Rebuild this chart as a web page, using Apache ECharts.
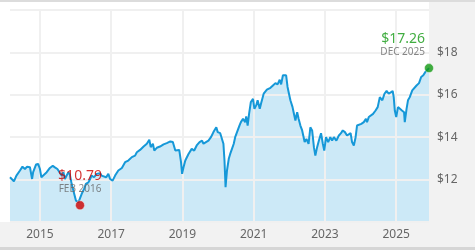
<!DOCTYPE html>
<html>
<head>
<meta charset="utf-8">
<script src="https://cdn.jsdelivr.net/npm/echarts@6/dist/echarts.min.js"></script>
<style>
  html, body { margin: 0; padding: 0; background: #f2f2f2; }
  #wrap { position: relative; width: 475px; height: 250px; overflow: hidden; }
  #topline { position: absolute; left: 0; top: 0; width: 475px; height: 2px; background: #dcdcdc; }
  #botline { position: absolute; left: 0; top: 247px; width: 475px; height: 3px; background: #d6d6d6; }
  #plotbg { position: absolute; left: 0; top: 2px; width: 429px; height: 220px; background: #ffffff; }
  #chart { position: absolute; left: 0; top: 0; width: 475px; height: 250px; }
</style>
</head>
<body>
<div id="wrap">
  <div id="topline"></div>
  <div id="plotbg"></div>
  <div id="botline"></div>
  <div id="chart"></div>
</div>
<script>
// Decimal years of each sample
const years = [
  2014.16, 2014.20, 2014.27, 2014.34, 2014.44, 2014.51, 2014.58, 2014.64, 2014.72, 2014.78,
  2014.81, 2014.89, 2014.95, 2015.00, 2015.04, 2015.09, 2015.19, 2015.28, 2015.36, 2015.42,
  2015.49, 2015.54, 2015.61, 2015.66, 2015.70, 2015.75, 2015.80, 2015.84, 2015.89, 2015.94,
  2016.01, 2016.08, 2016.12, 2016.17, 2016.24, 2016.29, 2016.36, 2016.41, 2016.45, 2016.52,
  2016.59, 2016.69, 2016.73, 2016.78, 2016.86, 2016.92, 2016.97, 2017.04, 2017.11, 2017.20,
  2017.30, 2017.39, 2017.48, 2017.58, 2017.67, 2017.72, 2017.81, 2017.91, 2018.00, 2018.07,
  2018.11, 2018.17, 2018.21, 2018.28, 2018.37, 2018.47, 2018.56, 2018.66, 2018.73, 2018.80,
  2018.84, 2018.91, 2018.96, 2018.99, 2019.03, 2019.08, 2019.17, 2019.26, 2019.33, 2019.40,
  2019.48, 2019.55, 2019.59, 2019.66, 2019.73, 2019.80, 2019.87, 2019.95, 2019.99, 2020.06,
  2020.11, 2020.15, 2020.18, 2020.21, 2020.25, 2020.30, 2020.34, 2020.39, 2020.44, 2020.48,
  2020.55, 2020.60, 2020.64, 2020.70, 2020.76, 2020.79, 2020.83, 2020.87, 2020.92, 2020.98,
  2021.02, 2021.07, 2021.11, 2021.17, 2021.21, 2021.28, 2021.37, 2021.47, 2021.54, 2021.61,
  2021.67, 2021.73, 2021.77, 2021.82, 2021.86, 2021.91, 2021.95, 2021.99, 2022.03, 2022.09,
  2022.12, 2022.17, 2022.22, 2022.26, 2022.31, 2022.36, 2022.40, 2022.43, 2022.48, 2022.54,
  2022.59, 2022.64, 2022.69, 2022.73, 2022.78, 2022.83, 2022.89, 2022.94, 2022.98, 2023.03,
  2023.09, 2023.15, 2023.20, 2023.25, 2023.32, 2023.39, 2023.45, 2023.50, 2023.56, 2023.62,
  2023.67, 2023.72, 2023.76, 2023.81, 2023.86, 2023.90, 2023.95, 2024.02, 2024.09, 2024.15,
  2024.18, 2024.23, 2024.28, 2024.35, 2024.42, 2024.48, 2024.54, 2024.61, 2024.67, 2024.73,
  2024.79, 2024.84, 2024.90, 2024.93, 2024.96, 2025.00, 2025.05, 2025.10, 2025.16, 2025.22,
  2025.24, 2025.29, 2025.33, 2025.38, 2025.45, 2025.50, 2025.57, 2025.64, 2025.70, 2025.76,
  2025.82, 2025.87, 2025.92
];
// Price ($) at each sample
const prices = [
  12.11, 12.03, 11.92, 12.19, 12.43, 12.61, 12.50, 12.61, 12.58, 12.03,
  12.35, 12.71, 12.74, 12.50, 12.11, 12.19, 12.35, 12.55, 12.65, 12.58,
  12.50, 12.43, 12.19, 12.35, 12.03, 12.19, 12.35, 12.24, 11.80, 11.87,
  11.01, 10.93, 11.01, 11.32, 11.56, 11.80, 11.87, 12.03, 12.19, 12.11,
  12.27, 12.30, 12.19, 12.27, 12.11, 12.27, 12.03, 11.95, 12.19, 12.43,
  12.55, 12.82, 12.90, 13.06, 13.13, 13.29, 13.40, 13.56, 13.69, 13.88,
  13.53, 13.69, 13.37, 13.50, 13.56, 13.66, 13.72, 13.80, 13.77, 13.37,
  13.29, 13.40, 12.82, 12.27, 12.58, 12.90, 13.21, 13.45, 13.37, 13.61,
  13.77, 13.84, 13.69, 13.77, 13.84, 14.00, 14.24, 14.47, 14.24, 14.19,
  14.24, 13.69, 12.90, 11.64, 12.43, 12.98, 13.21, 13.45, 13.69, 14.00,
  14.32, 14.55, 14.71, 14.87, 14.71, 14.98, 14.55, 15.10, 15.66, 15.81,
  15.34, 15.50, 15.74, 15.34, 15.61, 16.05, 16.24, 16.33, 16.44, 16.55,
  16.49, 16.71, 16.49, 16.92, 17.00, 16.92, 16.37, 16.05, 15.74, 15.42,
  15.18, 14.79, 15.18, 14.87, 14.55, 14.32, 14.24, 13.77, 13.92, 13.69,
  14.47, 14.32, 13.53, 13.13, 13.53, 13.84, 14.19, 13.69, 13.37, 14.00,
  13.77, 14.00, 13.84, 14.00, 13.84, 14.08, 14.19, 14.32, 14.24, 14.08,
  14.00, 14.19, 13.77, 13.61, 14.00, 14.55, 14.47, 14.63, 14.71, 14.87,
  14.71, 14.95, 15.03, 15.10, 15.26, 15.42, 15.89, 15.74, 16.05, 16.18,
  16.05, 16.13, 16.18, 15.89, 15.26, 14.95, 15.42, 15.34, 15.26, 15.18,
  14.71, 15.34, 15.74, 15.89, 16.21, 16.29, 16.44, 16.55, 16.84, 16.92,
  17.08, 17.00, 17.26
];
// Highlighted points
const lowPoint = { year: 2016.125, price: 10.79, label: 'FEB 2016' };
const highPoint = { year: 2025.92, price: 17.26, label: 'DEC 2025' };
// Axis ticks
const xTickYears = [2015, 2017, 2019, 2021, 2023, 2025];
const yMin = 10, yMax = 20, yStep = 2;
const xStart = years[0], xEnd = years[years.length - 1];

const series = years.map((y, i) => [y, prices[i]]);
const FONT = '"Noto Sans", "Open Sans", sans-serif';

function pointLabel(color, alignRight) {
  return {
    show: true,
    position: 'top',
    distance: 5,
    align: alignRight ? 'right' : 'center',
    offset: alignRight ? [-4, 0] : [0, 0],
    formatter: p => '{v|$' + p.value[1].toFixed(2) + '}\n{d|' + p.data.name + '}',
    rich: {
      v: { fontFamily: FONT, fontSize: 14, lineHeight: 15, color: color },
      d: { fontFamily: FONT, fontSize: 10, lineHeight: 12, color: '#666666' }
    }
  };
}

const chart = echarts.init(document.getElementById('chart'), null, { renderer: 'canvas' });
chart.setOption({
  backgroundColor: 'transparent',
  animation: false,
  grid: { left: 10, right: 46, top: 10, bottom: 28, containLabel: false, outerBoundsMode: 'none' },
  xAxis: {
    type: 'value',
    min: xStart,
    max: xEnd,
    z: 3,
    axisLine: { show: false },
    axisTick: { show: false, customValues: xTickYears },
    axisLabel: {
      customValues: xTickYears,
      formatter: v => String(Math.round(v)),
      color: '#666666', fontFamily: FONT, fontSize: 12, margin: 7
    },
    splitLine: { show: true, lineStyle: { color: '#f0f0f0', width: 2 } }
  },
  yAxis: {
    type: 'value',
    position: 'right',
    min: yMin, max: yMax, interval: yStep,
    z: 3,
    axisLine: { show: false },
    axisTick: { show: false },
    axisLabel: {
      formatter: v => '$' + v,
      showMinLabel: false, showMaxLabel: false,
      color: '#666666', fontFamily: FONT, fontSize: 12, margin: 8
    },
    splitLine: { show: true, lineStyle: { color: '#f0f0f0', width: 2 } }
  },
  series: [
    {
      type: 'line', data: series, z: 1, showSymbol: false, silent: true,
      lineStyle: { width: 0 },
      areaStyle: { color: '#cce9f7', opacity: 1, origin: 'start' }
    },
    {
      type: 'line', data: series, z: 4, showSymbol: false, silent: true,
      lineStyle: { width: 2, color: '#1698d8' }
    },
    {
      type: 'scatter', z: 5, symbolSize: 9,
      data: [{ name: lowPoint.label, value: [lowPoint.year, lowPoint.price] }],
      itemStyle: { color: '#cc0000', borderColor: '#ffffff', borderWidth: 0.5 },
      label: pointLabel('#cc0000', false)
    },
    {
      type: 'scatter', z: 5, symbolSize: 9,
      data: [{ name: highPoint.label, value: [highPoint.year, highPoint.price] }],
      itemStyle: { color: '#119911', borderColor: '#ffffff', borderWidth: 0.5 },
      label: pointLabel('#119911', true)
    }
  ]
});
</script>
</body>
</html>
